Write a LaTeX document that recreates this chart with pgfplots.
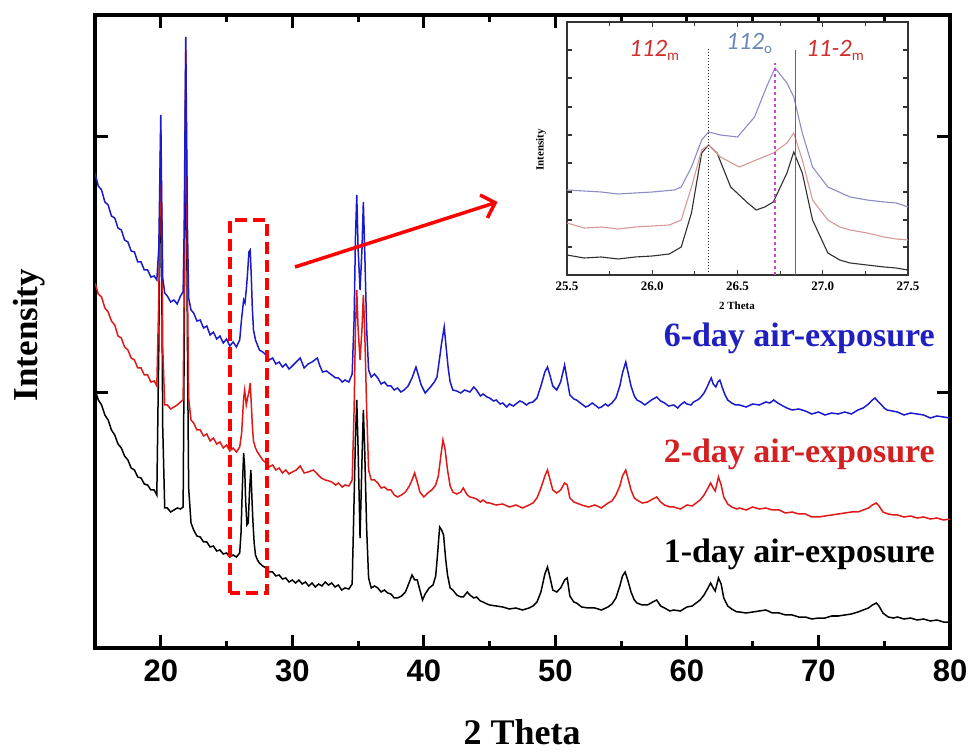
\documentclass[border=0pt]{standalone}
\usepackage{pgfplots}
\pgfplotsset{compat=1.18}
\usepackage{fontspec}
\setmainfont{Liberation Serif}
\newfontfamily\arialf{Liberation Sans}
\newfontfamily\calf{Carlito}
\usetikzlibrary{arrows.meta}
\definecolor{cblue}{HTML}{1A1ACC}
\definecolor{cred}{HTML}{E01818}
\definecolor{lblue}{HTML}{2020C0}
\definecolor{lred}{HTML}{D42020}
\definecolor{iblue}{HTML}{8C8CC8}
\definecolor{ipink}{HTML}{D89898}
\definecolor{idark}{HTML}{303030}
\definecolor{tred}{HTML}{D03030}
\definecolor{tblue}{HTML}{6C88B8}
\definecolor{imag}{HTML}{CC44CC}
\begin{document}
\begin{tikzpicture}[x=1pt,y=1pt]
\path[use as bounding box] (0,0) rectangle (971,752);
\begin{axis}[
  at={(95pt,104pt)}, anchor=south west,
  scale only axis, width=855pt, height=633pt,
  xmin=15, xmax=80, ymin=0, ymax=633,
  xtick={20,30,40,50,60,70,80}, minor xtick={25,35,45,55,65,75},
  ytick={255,511}, yticklabels={},
  tick align=inside,
  axis line style={line width=3.5pt},
  every tick/.style={line width=3pt, black},
  major tick length=13pt, minor tick length=7pt,
  /pgf/number format/assume math mode=true,
  xticklabel style={font=\arialf\bfseries\fontsize{31}{31}\selectfont, yshift=-8pt},
]
\addplot[black, line width=1.5pt] table {
15 258
15.25 248
15.5 243
15.75 233
16 228
16.25 218
16.5 213
16.75 204
17 200
17.25 192
17.5 188
17.75 180
18 178
18.25 171
18.5 170
18.75 164
19 163
19.25 158
19.5 158
19.7 153
19.85 300
19.93 420
20.0 498
20.07 380
20.15 220
20.3 140
20.5 140
20.75 136
21 138
21.25 140
21.5 139
21.7 141
21.78 300
21.85 480
21.9 578
21.96 450
22.03 300
22.12 160
22.3 125
22.5 118
22.75 112
23 111
23.25 106
23.5 106
23.75 101
24 102
24.25 97
24.5 98
24.75 94
25 95
25.25 91
25.5 93
25.75 91
26.0 95
26.1 115
26.2 160
26.3 195
26.38 180
26.45 148
26.55 123
26.65 125
26.75 158
26.85 178
26.93 150
27.0 128
27.1 105
27.2 93
27.35 88
27.5 85
27.75 82
28 80
28.25 76
28.5 76
28.75 72
29 73
29.25 69
29.5 70
29.75 66
30 68
30.25 65
30.5 68
30.75 64
31 66
31.25 62
31.5 65
31.75 61
32 64
32.25 62
32.5 66
32.75 63
33 65
33.25 61
33.5 63
33.75 58
34 60
34.3 59
34.55 64
34.7 150
34.8 210
34.9 248
35.0 200
35.15 110
35.3 190
35.4 238
35.5 200
35.65 120
35.8 70
36 60
36.25 62
36.5 60
36.75 56
37 58
37.25 55
37.5 54
37.75 50
38 50
38.3 52
38.6 56
38.9 66
39.1 73
39.3 68
39.5 68
39.7 58
39.9 48
40.1 54
40.4 60
40.7 63
40.9 72
41.05 95
41.2 121
41.35 118
41.5 113
41.65 90
41.8 73
42.0 60
42.2 58
42.5 53
42.8 51
43 51
43.3 56
43.5 53
43.8 50
44 51
44.3 47
44.5 46
44.8 44
45 43
45.5 42
46 41
46.5 39
47 40
47.5 38
48 40
48.3 42
48.6 46
48.9 56
49.2 74
49.4 81
49.6 70
49.8 58
50.1 56
50.4 60
50.7 68
50.9 70
51.1 52
51.4 46
51.6 45
52 41
52.5 40
53 40
53.5 38
54 41
54.3 44
54.6 50
54.9 62
55.1 72
55.3 76
55.5 68
55.75 56
56 48
56.2 45
56.6 43
57 43
57.4 46
57.7 48
58 42
58.3 40
58.7 37
59 38
59.5 37
60 41
60.4 42
60.7 45
61 48
61.3 53
61.6 60
61.8 65
62.0 60
62.15 57
62.4 70
62.6 64
62.8 50
63.1 42
63.4 39
63.8 36
64 36
64.5 35
65 36
65.5 37
66 38
66.5 35
67 35
67.5 33
68 33
68.5 31
69 31
69.5 29
70 30
70.5 30
71 32
71.5 32
72 33
72.5 34
73 36
73.4 38
73.8 40
74.1 43
74.4 45
74.6 42
74.9 35
75.3 31
75.7 30
76 31
76.5 29
77 30
77.5 28
78 29
78.5 27
79 28
79.5 26
80 26
};
\addplot[cred, line width=1.5pt] table {
15 365
15.25 354
15.5 351
15.75 340
16 336
16.25 327
16.5 323
16.75 312
17 310
17.25 301
17.5 298
17.75 290
18 288
18.25 280
18.5 280
18.75 273
19 273
19.25 266
19.5 267
19.7 262
19.85 350
19.93 440
20.0 518
20.07 420
20.15 300
20.3 243
20.5 243
20.75 239
21 241
21.25 243
21.5 246
21.7 248
21.78 360
21.85 500
21.9 598
21.96 480
22.03 360
22.12 250
22.3 228
22.5 225
22.75 218
23 218
23.25 212
23.5 214
23.75 207
24 210
24.25 204
24.5 206
24.75 200
25 203
25.25 197
25.5 200
25.75 196
26.0 201
26.15 215
26.3 250
26.38 258
26.5 243
26.6 250
26.7 256
26.8 265
26.88 245
26.96 222
27.05 207
27.2 200
27.35 196
27.5 193
27.75 188
28 185
28.25 181
28.5 183
28.75 178
29 180
29.25 175
29.5 178
29.75 174
30 176
30.3 178
30.6 182
30.9 175
31.2 176
31.6 178
31.9 174
32.2 170
32.5 168
32.8 167
33 166
33.3 163
33.5 165
33.8 161
34 163
34.3 162
34.55 168
34.7 240
34.8 320
34.9 358
35.0 320
35.15 288
35.3 320
35.4 353
35.5 320
35.65 240
35.8 178
36 168
36.25 168
36.5 165
36.75 160
37 161
37.25 158
37.5 158
37.75 153
38 151
38.3 153
38.6 156
38.9 162
39.1 168
39.3 175
39.5 166
39.7 156
40 151
40.3 155
40.6 158
40.9 163
41.1 172
41.3 193
41.45 208
41.6 200
41.8 178
42.0 162
42.2 156
42.5 154
42.8 156
43.0 160
43.3 153
43.5 151
43.8 150
44 149
44.3 146
44.5 148
44.8 145
45 145
45.5 143
46 144
46.5 141
47 143
47.5 140
48 143
48.3 145
48.6 150
48.9 160
49.2 172
49.4 178
49.6 168
49.8 158
50.1 155
50.4 158
50.7 165
50.9 163
51.1 150
51.4 146
51.6 145
52 143
52.5 141
53 143
53.5 140
54 145
54.3 147
54.6 153
54.9 162
55.1 172
55.35 178
55.55 168
55.75 158
56 150
56.2 148
56.6 145
57 146
57.4 149
57.7 151
58 146
58.3 143
58.7 141
59 141
59.5 139
60 143
60.4 142
60.7 145
61 148
61.3 153
61.6 160
61.8 165
62.0 160
62.15 157
62.4 171
62.6 163
62.8 151
63.1 144
63.4 141
63.8 139
64 140
64.5 138
65 141
65.5 139
66 140
66.5 138
67 138
67.5 135
68 136
68.5 134
69 134
69.5 131
70 131
70.5 132
71 133
71.5 134
72 135
72.5 136
73 136
73.4 138
73.8 140
74.1 143
74.4 145
74.6 142
74.9 136
75.3 134
75.7 133
76 133
76.5 131
77 132
77.5 130
78 131
78.5 129
79 130
79.5 128
80 129
};
\addplot[cblue, line width=1.5pt] table {
15 475
15.25 462
15.5 458
15.75 446
16 443
16.25 432
16.5 430
16.75 420
17 418
17.25 408
17.5 406
17.75 397
18 396
18.25 386
18.5 386
18.75 378
19 378
19.25 371
19.5 372
19.7 368
19.85 400
19.93 470
20.0 533
20.07 450
20.15 370
20.3 355
20.5 352
20.75 346
21 348
21.25 344
21.5 352
21.7 356
21.78 420
21.85 530
21.9 611
21.96 520
22.03 420
22.12 350
22.3 338
22.5 335
22.75 327
23 328
23.25 320
23.5 322
23.75 313
24 316
24.25 309
24.5 312
24.75 305
25 309
25.25 302
25.5 306
25.75 301
26.0 308
26.15 330
26.3 348
26.4 345
26.5 358
26.6 375
26.7 396
26.8 398
26.88 372
26.96 340
27.05 318
27.2 308
27.35 303
27.5 298
27.75 296
28 293
28.25 288
28.5 290
28.75 284
29 286
29.25 281
29.5 284
29.75 279
30 282
30.3 286
30.6 290
30.9 280
31.2 284
31.5 286
31.9 290
32.1 282
32.3 276
32.6 277
33 273
33.3 270
33.5 270
33.8 266
34 268
34.3 266
34.55 274
34.7 330
34.8 410
34.9 453
35.0 400
35.15 358
35.3 400
35.4 446
35.5 400
35.65 320
35.8 278
36 271
36.25 274
36.5 270
36.75 264
37 266
37.25 262
37.5 262
37.75 258
38 260
38.25 256
38.5 258
38.8 262
39.1 270
39.4 281
39.6 272
39.8 263
40.1 255
40.3 258
40.5 261
40.8 266
41 271
41.2 290
41.35 305
41.55 321
41.7 300
41.85 280
42.0 266
42.2 258
42.5 257
42.8 255
43.1 258
43.5 256
43.8 261
44 258
44.3 252
44.5 254
44.8 251
45 250
45.3 247
45.5 248
45.8 244
46 245
46.3 241
46.5 244
46.8 242
47 244
47.3 247
47.5 246
47.8 243
48 245
48.3 246
48.6 250
48.9 262
49.2 276
49.4 281
49.6 272
49.8 262
50.1 258
50.4 266
50.7 283
50.9 268
51.1 253
51.4 249
51.6 248
51.8 246
52 244
52.3 241
52.5 242
52.8 245
53 243
53.3 240
53.5 241
53.8 244
54 242
54.3 245
54.6 250
54.9 262
55.1 275
55.35 286
55.55 274
55.75 262
56 252
56.2 248
56.5 246
56.8 243
57 245
57.3 248
57.7 251
58.0 247
58.3 245
58.6 242
59 243
59.3 240
59.5 243
59.8 246
60 244
60.3 243
60.5 246
60.8 248
61 250
61.3 255
61.5 260
61.7 266
61.85 270
62.0 264
62.2 261
62.35 266
62.5 268
62.7 260
62.9 253
63.1 248
63.4 245
63.7 243
64 243
64.5 241
65 244
65.5 243
66 246
66.3 245
66.6 248
66.9 245
67.3 242
67.6 240
68 238
68.5 239
69 237
69.5 234
70 236
70.5 233
71 235
71.5 234
72 236
72.5 234
73 238
73.4 240
73.8 244
74.1 248
74.3 250
74.5 247
74.8 243
75.0 240
75.2 238
75.6 237
76 236
76.5 233
77 235
77.5 234
78 233
78.5 230
79 232
79.5 231
80 230
};
\draw[red, line width=3.5pt, dash pattern=on 12pt off 6pt] (axis cs:25.27,55) rectangle (axis cs:28.08,428);
\draw[red, line width=3.5pt, -{Straight Barb[length=12pt,width=24pt,line width=3.5pt]}] (axis cs:30.2,381) -- (axis cs:45.6,446);
\end{axis}
% inset
\begin{axis}[
  at={(567pt,477pt)}, anchor=south west,
  scale only axis, width=341pt, height=253pt,
  xmin=25.5, xmax=27.5, ymin=0, ymax=253,
  axis background/.style={fill=white},
  xtick={25.5,26,26.5,27,27.5}, minor x tick num=1,
  ytick={28,55,83,112,140,168,197,225}, yticklabels={},
  tick align=inside,
  axis line style={line width=1.3pt, black!80},
  every tick/.style={line width=1.2pt, black!80},
  major tick length=5pt, minor tick length=4pt,
  /pgf/number format/assume math mode=true,
  xticklabel style={font=\bfseries\fontsize{13}{13}\selectfont, yshift=-3pt, /pgf/number format/.cd, fixed, fixed zerofill, precision=1},
]
\addplot[idark, line width=1.1pt] table {
25.5 20
25.6 17
25.7 18
25.8 16
25.9 18
26.0 19
26.1 21
26.17 28
26.23 62
26.29 122
26.33 130
26.38 122
26.46 88
26.56 72
26.61 65
26.66 68
26.71 73
26.79 102
26.83 123
26.88 102
26.94 55
27.03 22
27.1 15
27.16 12
27.26 10
27.36 8
27.43 7
27.5 5
};
\addplot[ipink, line width=1.1pt] table {
25.5 52
25.6 47
25.7 48
25.8 46
25.9 48
26.0 49
26.1 50
26.17 55
26.23 88
26.29 125
26.33 130
26.40 118
26.51 108
26.61 115
26.71 122
26.79 132
26.83 142
26.88 115
26.94 75
27.03 55
27.1 48
27.16 45
27.26 42
27.36 38
27.43 36
27.5 35
};
\addplot[iblue, line width=1.1pt] table {
25.5 85
25.6 84
25.7 83
25.8 81
25.9 82
26.0 83
26.13 85
26.17 88
26.23 108
26.29 135
26.33 143
26.40 140
26.50 138
26.60 158
26.67 188
26.72 207
26.79 192
26.83 178
26.88 142
26.94 108
27.03 88
27.16 78
27.26 75
27.36 73
27.43 72
27.5 68
};
\draw[idark, line width=1pt, dotted] (axis cs:26.33,0) -- (axis cs:26.33,227);
\draw[imag, line width=1.2pt, dashed] (axis cs:26.72,0) -- (axis cs:26.72,212);
\draw[black!60, line width=1.1pt] (axis cs:26.84,0) -- (axis cs:26.84,225);
\end{axis}
% inset labels
\node[anchor=base west, inner sep=0, text=tred, font=\calf\itshape\fontsize{25}{25}\selectfont] at (629,695) {112\textsubscript{\upshape\fontsize{15}{15}\selectfont m}};
\node[anchor=base west, inner sep=0, text=tblue, font=\calf\itshape\fontsize{25}{25}\selectfont] at (726,702) {112\textsubscript{\upshape\fontsize{15}{15}\selectfont o}};
\node[anchor=base west, inner sep=0, text=tred, font=\calf\itshape\fontsize{25}{25}\selectfont] at (806,695) {11-2\textsubscript{\upshape\fontsize{15}{15}\selectfont m}};
\node[anchor=center, font=\bfseries\fontsize{11}{11}\selectfont] at (737,446) {2 Theta};
\node[anchor=center, rotate=90, font=\bfseries\fontsize{11}{11}\selectfont] at (541,602) {Intensity};
% series labels
\node[anchor=base east, inner sep=0, text=lblue, font=\bfseries\fontsize{34}{34}\selectfont] at (935,405) {6-day air-exposure};
\node[anchor=base east, inner sep=0, text=lred, font=\bfseries\fontsize{34}{34}\selectfont] at (935,289) {2-day air-exposure};
\node[anchor=base east, inner sep=0, text=black, font=\bfseries\fontsize{34}{34}\selectfont] at (935,189) {1-day air-exposure};
% axis labels
\node[anchor=base, inner sep=0, font=\bfseries\fontsize{36}{36}\selectfont] at (522,8) {2 Theta};
\node[anchor=center, rotate=90, inner sep=0, font=\bfseries\fontsize{35}{35}\selectfont] at (29,417) {Intensity};
\end{tikzpicture}
\end{document}
